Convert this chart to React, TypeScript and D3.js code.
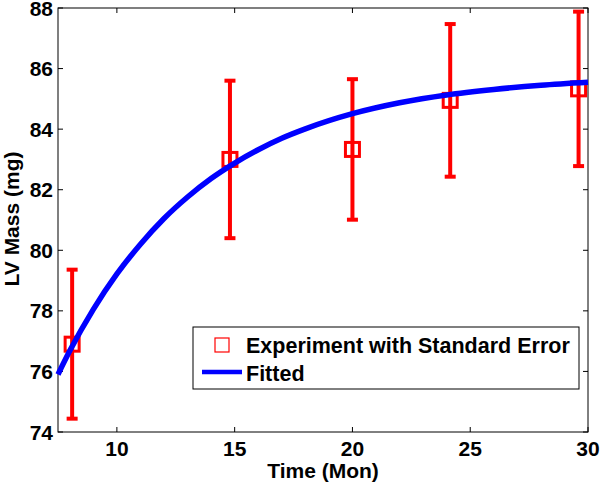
import React from "react";
import * as d3 from "d3";

// Experimental data (mean ± standard error)
const expTime = [8.1, 14.8, 20.0, 24.15, 29.6];
const expMass = [76.9, 83.0, 83.33, 84.95, 85.33];
const expSE = [2.46, 2.6, 2.32, 2.52, 2.55];

// Fitted curve
const fitTime = [7.5, 8, 9, 10, 11, 12, 13, 14, 15, 16, 17, 18, 20, 22, 24, 26, 28, 30];
const fitMass = [75.9, 76.68, 78.05, 79.22, 80.2, 81.05, 81.76, 82.37, 82.88, 83.32, 83.7, 84.01, 84.51, 84.87, 85.13, 85.31, 85.45, 85.55];

const xTicks = [10, 15, 20, 25, 30];
const yTicks = [74, 76, 78, 80, 82, 84, 86, 88];

const legendLabels = ["Experiment with Standard Error", "Fitted"];

const W = 600;
const H = 485;
const M = { left: 58, right: 12, top: 8, bottom: 53 };
const FONT = "'Liberation Sans', Arial, sans-serif";
const AXFS = 21;
const LGFS = 21.5;

export default function App() {
  const x = d3.scaleLinear().domain([7.5, 30]).range([M.left, W - M.right]);
  const y = d3.scaleLinear().domain([74, 88]).range([H - M.bottom, M.top]);
  const x0 = M.left, x1 = W - M.right, y0 = H - M.bottom, y1 = M.top;
  const tickLen = 5;

  const line = d3
    .line<number>()
    .x((_, i) => x(fitTime[i]))
    .y((d) => y(d))
    .curve(d3.curveMonotoneX);

  const capHalf = 5.5;
  const sq = 14;

  return (
    <svg
      width={W}
      height={H}
      style={{ position: "absolute", left: 0, top: 0, background: "#fff" }}
      fontFamily={FONT}
      fontWeight="bold"
    >
      <rect x={0} y={0} width={W} height={H} fill="#fff" />
      {/* axes box */}
      <rect x={x0} y={y1} width={x1 - x0} height={y0 - y1} fill="none" stroke="#000" strokeWidth={1} />
      {/* x ticks */}
      {xTicks.map((t) => (
        <g key={"xt" + t}>
          <line x1={x(t)} x2={x(t)} y1={y0} y2={y0 - tickLen} stroke="#000" />
          <line x1={x(t)} x2={x(t)} y1={y1} y2={y1 + tickLen} stroke="#000" />
          <text x={x(t)} y={y0 + 24} textAnchor="middle" fontSize={AXFS} fill="#000">
            {t}
          </text>
        </g>
      ))}
      {/* y ticks */}
      {yTicks.map((t) => (
        <g key={"yt" + t}>
          <line x1={x0} x2={x0 + tickLen} y1={y(t)} y2={y(t)} stroke="#000" />
          <line x1={x1} x2={x1 - tickLen} y1={y(t)} y2={y(t)} stroke="#000" />
          <text x={x0 - 5} y={y(t) + 7.5} textAnchor="end" fontSize={AXFS} fill="#000">
            {t}
          </text>
        </g>
      ))}
      {/* axis titles */}
      <text x={(x0 + x1) / 2} y={478} textAnchor="middle" fontSize={AXFS} fill="#000">
        Time (Mon)
      </text>
      <text
        transform={`translate(19, 219) rotate(-90)`}
        textAnchor="middle"
        fontSize={AXFS}
        fill="#000"
      >
        LV Mass (mg)
      </text>

      {/* error bars and squares */}
      {expTime.map((t, i) => {
        const cx = x(t);
        const top = y(expMass[i] + expSE[i]);
        const bot = y(expMass[i] - expSE[i]);
        const cy = y(expMass[i]);
        return (
          <g key={"e" + i} stroke="#ff0000" fill="none">
            <line x1={cx} x2={cx} y1={top} y2={bot} strokeWidth={4} />
            <line x1={cx - capHalf} x2={cx + capHalf} y1={top} y2={top} strokeWidth={4} />
            <line x1={cx - capHalf} x2={cx + capHalf} y1={bot} y2={bot} strokeWidth={4} />
            <rect x={cx - sq / 2} y={cy - sq / 2} width={sq} height={sq} strokeWidth={3} />
          </g>
        );
      })}

      {/* fitted curve */}
      <path d={line(fitMass) || ""} fill="none" stroke="#0000ff" strokeWidth={5.5} strokeLinejoin="round" />

      {/* legend */}
      <g>
        <rect x={193} y={327} width={386} height={62} fill="#fff" stroke="#000" strokeWidth={1} />
        <rect x={215} y={338} width={14} height={14} fill="none" stroke="#ff0000" strokeWidth={1.2} />
        <text x={246} y={352.5} fontSize={LGFS} fill="#000">
          {legendLabels[0]}
        </text>
        <line x1={202} x2={242} y1={372} y2={372} stroke="#0000ff" strokeWidth={4.5} />
        <text x={246} y={381} fontSize={LGFS} fill="#000">
          {legendLabels[1]}
        </text>
      </g>
    </svg>
  );
}
